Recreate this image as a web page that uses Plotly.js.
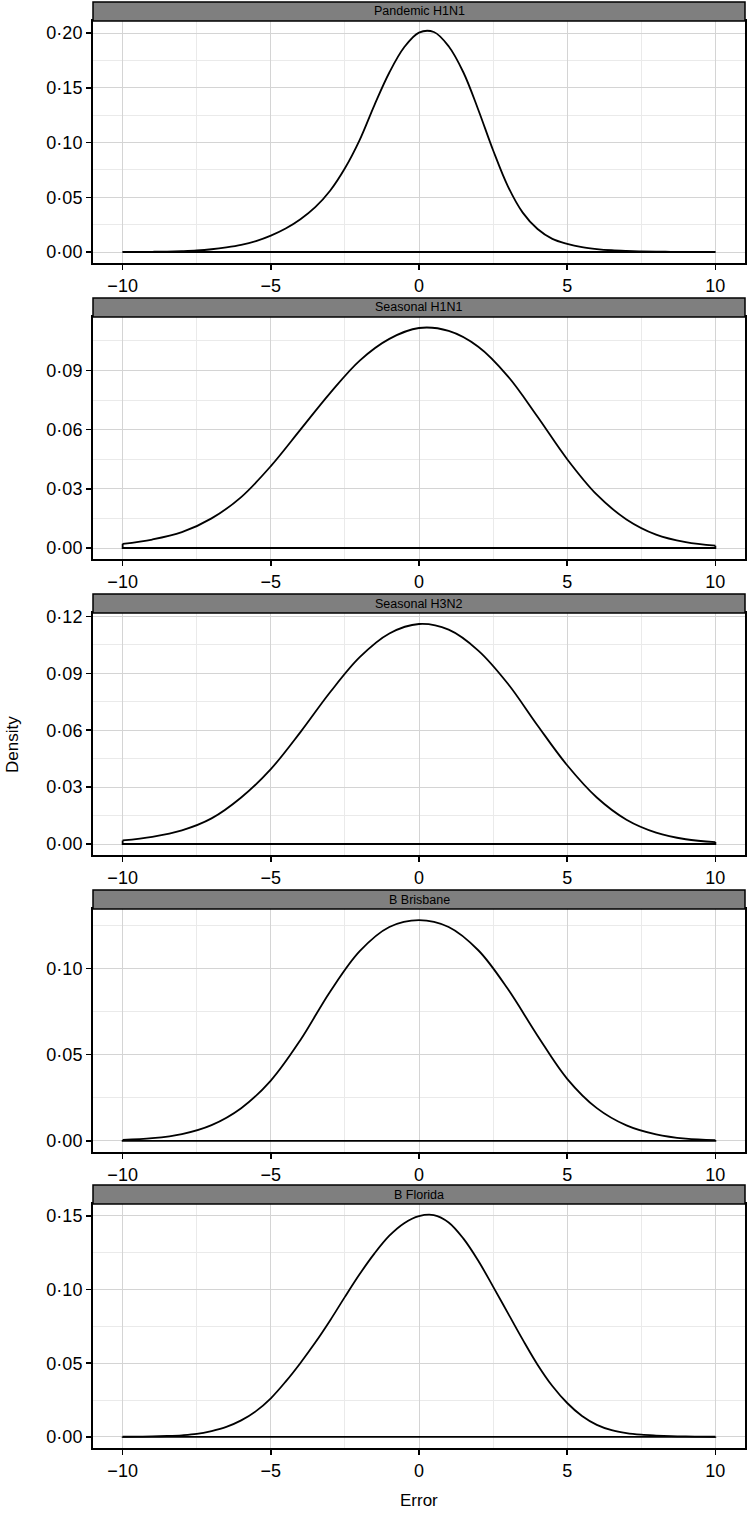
<!DOCTYPE html>
<html><head><meta charset="utf-8">
<script src="https://cdn.plot.ly/plotly-3.0.1.min.js"></script>
<style>html,body{margin:0;padding:0;background:#fff}</style>
</head><body>
<div id="chart" style="width:748px;height:1515px"></div>
<script>
// ---- data ----
const panelTitles = ["Pandemic H1N1", "Seasonal H1N1", "Seasonal H3N2", "B Brisbane", "B Florida"];
const errorHalfStep = [-10,-9.5,-9,-8.5,-8,-7.5,-7,-6.5,-6,-5.5,-5,-4.5,-4,-3.5,-3,-2.5,-2,-1.5,-1,-0.5,0,0.5,1,1.5,2,2.5,3,3.5,4,4.5,5,5.5,6,6.5,7,7.5,8,8.5,9,9.5,10];
const errorUnitStep = [-10,-9,-8,-7,-6,-5,-4,-3,-2,-1,0,1,2,3,4,5,6,7,8,9,10];
const densityPandemicH1N1 = [0.0000,0.0001,0.0002,0.0004,0.0008,0.0014,0.0025,0.0042,0.0065,0.0100,0.0150,0.0215,0.0300,0.0410,0.0560,0.0765,0.1025,0.1345,0.1640,0.1870,0.2005,0.2010,0.1880,0.1640,0.1300,0.0930,0.0600,0.0360,0.0210,0.0120,0.0075,0.0045,0.0027,0.0016,0.0010,0.0006,0.0003,0.0002,0.0001,0.0000,0.0000];
const densitySeasonalH1N1 = [0.0021,0.0043,0.0080,0.0150,0.0258,0.0415,0.0600,0.0785,0.0950,0.1060,0.1115,0.1100,0.1020,0.0870,0.0665,0.0450,0.0270,0.0145,0.0068,0.0030,0.0012];
const densitySeasonalH3N2 = [0.0019,0.0038,0.0072,0.0135,0.0245,0.0395,0.0590,0.0800,0.0985,0.1110,0.1160,0.1130,0.1020,0.0845,0.0625,0.0415,0.0245,0.0128,0.0060,0.0025,0.0010];
const densityBBrisbane = [0.0006,0.0016,0.0040,0.0092,0.0190,0.0350,0.0585,0.0865,0.1100,0.1240,0.1280,0.1240,0.1105,0.0880,0.0610,0.0360,0.0190,0.0090,0.0038,0.0013,0.0005];
const densityBFlorida = [0.0001,0.0002,0.0003,0.0006,0.0011,0.0020,0.0040,0.0068,0.0112,0.0175,0.0262,0.0375,0.0502,0.0640,0.0790,0.0950,0.1105,0.1245,0.1365,0.1450,0.1498,0.1505,0.1455,0.1345,0.1195,0.1020,0.0840,0.0660,0.0490,0.0345,0.0230,0.0142,0.0082,0.0046,0.0026,0.0015,0.0009,0.0005,0.0003,0.0002,0.0001];
const yTickSteps = [0.05, 0.03, 0.03, 0.05, 0.05];
const xTickStep = 5;

// ---- assemble ----
const series = [
  {x: errorHalfStep, y: densityPandemicH1N1},
  {x: errorUnitStep, y: densitySeasonalH1N1},
  {x: errorUnitStep, y: densitySeasonalH3N2},
  {x: errorUnitStep, y: densityBBrisbane},
  {x: errorHalfStep, y: densityBFlorida}
];

const W = 748, H = 1515;
const plotTop = [21, 317, 613, 909, 1204];
const plotBottom = [263, 559, 855, 1152, 1448];
const stripTop = [2, 298, 594, 890, 1185];
const FONT = "Liberation Sans, Arial, Helvetica, sans-serif";

const traces = [];
const layout = {
  width: W, height: H,
  margin: {l: 93, r: 3, t: 0, b: 0},
  paper_bgcolor: "#ffffff", plot_bgcolor: "#ffffff",
  showlegend: false,
  separators: "·,",
  font: {family: FONT, color: "#000"},
  shapes: [], annotations: []
};

series.forEach((s, i) => {
  const n = i + 1;
  const xa = "x" + n, ya = "y" + n;
  traces.push({
    type: "scatter", mode: "lines", x: s.x, y: s.y,
    xaxis: xa, yaxis: ya, hoverinfo: "skip",
    line: {color: "#000", width: 1.8, shape: "spline", smoothing: 1}
  });
  const last = s.x.length - 1;
  traces.push({
    type: "scatter", mode: "lines",
    x: [s.x[0], s.x[0], s.x[last], s.x[last]],
    y: [s.y[0], 0, 0, s.y[last]],
    xaxis: xa, yaxis: ya, hoverinfo: "skip",
    line: {color: "#000", width: 1.8}
  });
  const ymax = Math.max.apply(null, s.y);
  const dom = [1 - plotBottom[i] / H, 1 - plotTop[i] / H];
  layout["xaxis" + n] = {
    domain: [0, 1], anchor: ya, range: [-11, 11],
    tickmode: "linear", tick0: 0, dtick: xTickStep,
    ticks: "outside", ticklen: 5, tickwidth: 1.5, tickcolor: "#000",
    tickfont: {size: 18, color: "#000", family: FONT},
    showline: true, mirror: true, linecolor: "#000", linewidth: 2,
    showgrid: true, gridcolor: "#d4d4d4", gridwidth: 1,
    minor: {dtick: xTickStep / 2, tick0: 0, showgrid: true, gridcolor: "#eaeaea", gridwidth: 1, ticks: ""},
    zeroline: false, fixedrange: true
  };
  layout["yaxis" + n] = {
    domain: dom, anchor: xa, range: [-0.05 * ymax, 1.05 * ymax],
    tickmode: "linear", tick0: 0, dtick: yTickSteps[i], tickformat: ".2f",
    ticks: "outside", ticklen: 5, tickwidth: 1.5, tickcolor: "#000",
    tickfont: {size: 18, color: "#000", family: FONT},
    showline: true, mirror: true, linecolor: "#000", linewidth: 2,
    showgrid: true, gridcolor: "#d4d4d4", gridwidth: 1,
    minor: {dtick: yTickSteps[i] / 2, tick0: 0, showgrid: true, gridcolor: "#eaeaea", gridwidth: 1, ticks: ""},
    zeroline: false, fixedrange: true
  };
  // facet strip
  layout.shapes.push({
    type: "rect", xref: "paper", yref: "paper",
    x0: 0, x1: 1, y0: 1 - plotTop[i] / H, y1: 1 - stripTop[i] / H,
    fillcolor: "#7f7f7f", line: {color: "#000", width: 1.5}, layer: "above"
  });
  layout.annotations.push({
    xref: "paper", yref: "paper", x: 0.5,
    y: 1 - (plotTop[i] + stripTop[i]) / 2 / H,
    xanchor: "center", yanchor: "middle", showarrow: false,
    text: panelTitles[i], font: {size: 12.5, color: "#000", family: FONT}
  });
});

layout.annotations.push({
  xref: "paper", yref: "paper", x: 0.5, y: 1 - 1500 / H,
  xanchor: "center", yanchor: "middle", showarrow: false,
  text: "Error", font: {size: 17, color: "#000", family: FONT}
});
layout.annotations.push({
  xref: "paper", yref: "paper", x: -81 / 652, y: 1 - 745 / H,
  xanchor: "center", yanchor: "middle", showarrow: false, textangle: -90,
  text: "Density", font: {size: 17, color: "#000", family: FONT}
});

Plotly.newPlot("chart", traces, layout, {staticPlot: true, displayModeBar: false});
</script>
</body></html>
